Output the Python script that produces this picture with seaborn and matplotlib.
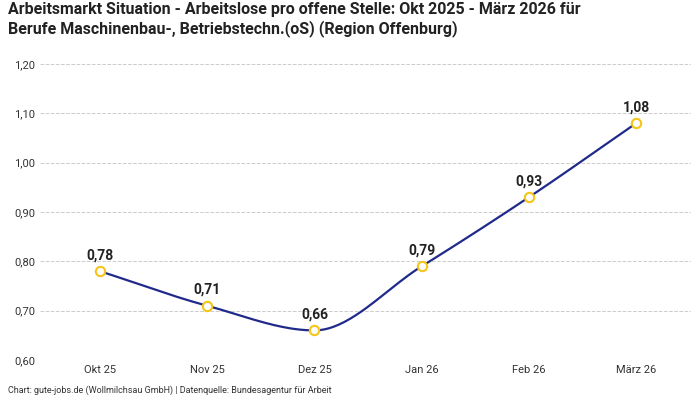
import numpy as np
import pandas as pd
import seaborn as sns
import matplotlib.pyplot as plt
from matplotlib.ticker import FuncFormatter

# =========================
# Data
# =========================
months = ["Okt 25", "Nov 25", "Dez 25", "Jan 26", "Feb 26", "März 26"]
values = [0.78, 0.71, 0.66, 0.79, 0.93, 1.08]

title = ("Arbeitsmarkt Situation - Arbeitslose pro offene Stelle: Okt 2025 - März 2026 für\n"
         "Berufe Maschinenbau-, Betriebstechn.(oS) (Region Offenburg)")
footer = "Chart: gute-jobs.de (Wollmilchsau GmbH) | Datenquelle: Bundesagentur für Arbeit"

df = pd.DataFrame({"x": np.arange(len(months)), "y": values})


# monotone cubic (Fritsch-Carlson) for the smoothed line
def monotone_curve(x, y, n=40):
    x = np.asarray(x, float)
    y = np.asarray(y, float)
    h = np.diff(x)
    d = np.diff(y) / h
    m = np.zeros_like(y)
    m[0], m[-1] = d[0], d[-1]
    for i in range(1, len(y) - 1):
        if d[i - 1] * d[i] <= 0:
            m[i] = 0
        else:
            m[i] = 2 / (1 / d[i - 1] + 1 / d[i])
    xs, ys = [], []
    for i in range(len(h)):
        t = np.linspace(0, 1, n)
        h00 = 2 * t**3 - 3 * t**2 + 1
        h10 = t**3 - 2 * t**2 + t
        h01 = -2 * t**3 + 3 * t**2
        h11 = t**3 - t**2
        xs.append(x[i] + t * h[i])
        ys.append(h00 * y[i] + h10 * h[i] * m[i] + h01 * y[i + 1] + h11 * h[i] * m[i + 1])
    return np.concatenate(xs), np.concatenate(ys)


# =========================
# Plot
# =========================
sns.set_style("white")
plt.rcParams["font.family"] = ["Roboto", "DejaVu Sans"]

fig = plt.figure(figsize=(7, 4), dpi=100)
ax = fig.add_axes([0.057, 0.10, 0.93, 0.74])

cx, cy = monotone_curve(df["x"], df["y"])
ax.plot(cx, cy, color="#1f2a8a", lw=1.6, zorder=2)
sns.scatterplot(data=df, x="x", y="y", ax=ax, s=45, color="white",
                edgecolor="#f5c518", linewidth=1.5, zorder=3, legend=False)

for xi, yi in zip(df["x"], df["y"]):
    ax.text(xi, yi + 0.018, f"{yi:.2f}".replace(".", ","), ha="center", va="bottom",
            fontsize=10, fontweight="bold", color="#222222")

ax.set_xlim(-0.56, 5.51)
ax.set_ylim(0.6, 1.2)
ax.set_yticks(np.arange(0.6, 1.21, 0.1))
ax.yaxis.set_major_formatter(FuncFormatter(lambda v, p: f"{v:.2f}".replace(".", ",")))
ax.set_xticks(df["x"])
ax.set_xticklabels(months)
ax.tick_params(axis="both", labelsize=8, colors="#333333", length=0)
ax.set_xlabel("")
ax.set_ylabel("")
ax.grid(axis="y", color="#cccccc", linestyle="--", lw=0.7)
for s in ax.spines.values():
    s.set_visible(False)

fig.text(0.012, 0.995, title, ha="left", va="top", fontsize=11.5, fontweight="bold", color="#222222")
fig.text(0.012, 0.012, footer, ha="left", va="bottom", fontsize=6.5, color="#333333")

plt.savefig("out.png", dpi=100)
